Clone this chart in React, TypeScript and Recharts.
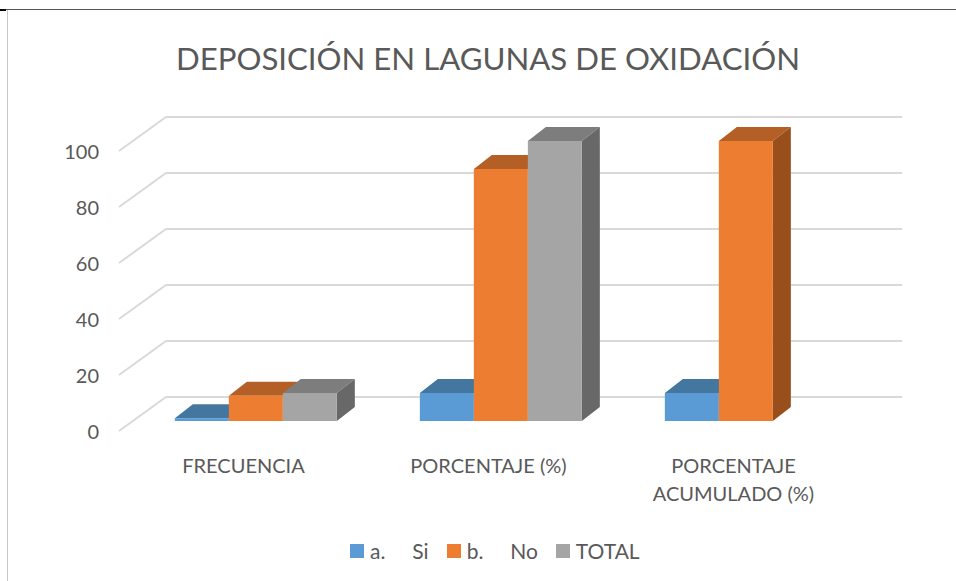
import { BarChart, Bar, XAxis, YAxis, CartesianGrid, Legend } from 'recharts'

const CATEGORIES = ['FRECUENCIA', 'PORCENTAJE (%)', 'PORCENTAJE\nACUMULADO (%)']
const SI = [1, 10, 10]
const NO = [9, 90, 100]
const TOTAL = [10, 100, null]
const Y_TICKS = [0, 20, 40, 60, 80, 100]

const FONT = 'Lato, "Open Sans", sans-serif'
const TEXT = '#595959'
const GRID = '#d9d9d9'

const data = CATEGORIES.map((name, i) => ({ name, si: SI[i], no: NO[i], total: TOTAL[i] }))

const SERIES = [
  { key: 'si', name: 'a.     Si', front: '#5b9bd5', top: '#44779f', side: '#3a6a93' },
  { key: 'no', name: 'b.     No', front: '#ed7d31', top: '#b45f25', side: '#984f1b' },
  { key: 'total', name: 'TOTAL', front: '#a5a5a5', top: '#7d7d7d', side: '#686868' },
]

// fake 3D: front face plus top and side faces pushed back
const DX = 18
const DY = 14

function Box3D(props: any) {
  const { x, y, width, height, front, top, side } = props
  if (!height || height <= 0) return null
  const r = x + width
  const b = y + height
  return (
    <g>
      <polygon points={`${x},${y} ${x + DX},${y - DY} ${r + DX},${y - DY} ${r},${y}`} fill={top} />
      <polygon points={`${r},${y} ${r + DX},${y - DY} ${r + DX},${b - DY} ${r},${b}`} fill={side} />
      <rect x={x} y={y} width={width} height={height} fill={front} />
    </g>
  )
}

// wall line: short diagonal on the left, then along the back
function GridLine(props: any) {
  const { x1, x2, y1 } = props
  return (
    <polyline
      points={`${x1 - 15},${y1 + 10} ${x1 + 32},${y1 - 24} ${x2 + 33},${y1 - 24}`}
      fill="none"
      stroke={GRID}
      strokeWidth={2}
    />
  )
}

function YTick({ y, payload }: any) {
  return (
    <text x={99} y={y + 18} textAnchor="end" fontSize={20} fontFamily={FONT} fill={TEXT}>
      {payload.value}
    </text>
  )
}

function XTick({ x, y, payload }: any) {
  const lines = String(payload.value).split('\n')
  return (
    <text textAnchor="middle" fontSize={20} fontFamily={FONT} fill={TEXT}>
      {lines.map((line, i) => (
        <tspan key={line} x={x - 13} y={y + 44 + i * 28}>
          {line}
        </tspan>
      ))}
    </text>
  )
}

function LegendRow({ payload }: any) {
  return (
    <div style={{ display: 'flex', alignItems: 'center', fontFamily: FONT, fontSize: 21, color: TEXT, whiteSpace: 'pre' }}>
      {(payload ?? []).map((item: any) => (
        <span key={item.value} style={{ display: 'flex', alignItems: 'center', marginRight: 18 }}>
          <span style={{ width: 14, height: 14, background: item.color, marginRight: 6 }} />
          {item.value}
        </span>
      ))}
    </div>
  )
}

export default function App() {
  return (
    <div style={{ position: 'absolute', left: 0, top: 0, width: 956, height: 581, background: '#fff', overflow: 'hidden' }}>
      <div style={{ position: 'absolute', left: 0, right: 0, top: 9, height: 1, background: '#555' }} />
      <div style={{ position: 'absolute', left: 0, width: 6, top: 9, height: 2, background: '#000' }} />
      <div style={{ position: 'absolute', left: 7, width: 1, top: 10, bottom: 0, background: '#c8c8c8' }} />
      <BarChart
        width={956}
        height={581}
        data={data}
        margin={{ top: 141, right: 87, bottom: 100, left: 84 }}
        barCategoryGap="16.67%"
        barGap={0}
        style={{ position: 'absolute', left: 0, top: 0 }}
      >
        <CartesianGrid vertical={false} horizontal={(p: any) => <GridLine key={p.key} {...p} />} />
        <XAxis dataKey="name" height={60} axisLine={false} tickLine={false} interval={0} tick={<XTick />} />
        <YAxis width={50} domain={[0, 100]} ticks={Y_TICKS} axisLine={false} tickLine={false} tick={<YTick />} />
        {SERIES.map((s) => (
          <Bar
            key={s.key}
            dataKey={s.key}
            name={s.name}
            fill={s.front}
            isAnimationActive={false}
            shape={(p: any) => <Box3D {...p} front={s.front} top={s.top} side={s.side} />}
          />
        ))}
        <Legend
          layout="horizontal"
          align="center"
          verticalAlign="middle"
          itemSorter={null}
          wrapperStyle={{ top: 538, left: 350, width: 320 }}
          content={<LegendRow />}
        />
        <text x={488} y={70} textAnchor="middle" fontSize={31.2} fontFamily={FONT} fill={TEXT}>
          DEPOSICIÓN EN LAGUNAS DE OXIDACIÓN
        </text>
      </BarChart>
    </div>
  )
}
